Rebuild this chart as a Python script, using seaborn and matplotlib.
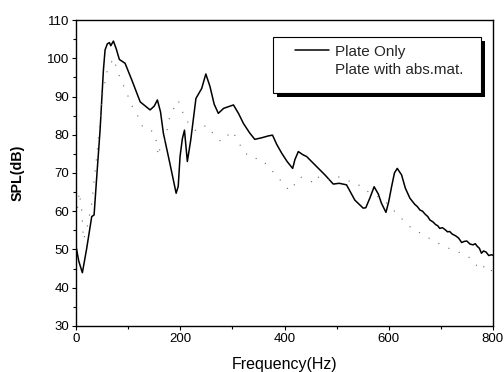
import numpy as np
import matplotlib
matplotlib.use("Agg")
import matplotlib.pyplot as plt
from matplotlib.patches import Rectangle
import seaborn as sns

# ─── DATA ─────────────────────────────────────────────────
freq_plate = [0, 5, 12, 20, 30, 34.5, 39.6, 46, 52.4, 55.6, 60, 64, 66.5, 71.6, 77, 83,
              94, 107, 123, 142, 150, 156, 162, 167.5, 180, 192, 196, 199.5, 204, 208,
              213.5, 220, 230, 241, 249, 257, 265, 273, 283, 302, 312, 321, 333, 343,
              356, 369, 377, 385, 394.5, 405, 415.6, 420, 426.5, 435, 442.5, 458.5,
              477.6, 493.6, 505, 519, 535, 551, 556, 564, 572, 580, 586, 594.7, 600,
              605.5, 611, 616.4, 624.7, 632, 640.7, 650, 655, 660, 665, 670, 675, 679,
              685, 690, 694, 698, 703, 708, 713, 717, 722, 728, 734, 740, 745, 750,
              756, 762, 766, 770, 774, 778, 782, 787, 792, 797, 800]
spl_plate = [50.7, 47, 43.9, 50, 58.6, 59, 69, 81.2, 96.9, 102.2, 103.8, 104.1, 103.3,
             104.5, 102.5, 99.7, 98.7, 94.3, 88.6, 86.5, 87.5, 89.1, 86, 80.4, 72.5,
             64.7, 66.5, 74.3, 79, 81.2, 73, 78.6, 89.5, 92.1, 95.9, 92.6, 88, 85.6,
             86.9, 87.8, 85.5, 83, 80.5, 78.8, 79.2, 79.7, 79.9, 77.5, 75.2, 73, 71.2,
             73.5, 75.6, 74.8, 74.3, 72.1, 69.5, 67.1, 67.3, 66.9, 62.9, 60.8, 60.9,
             63.5, 66.4, 64.5, 62.1, 59.7, 62.5, 66.4, 70, 71.2, 69.5, 66, 63.4, 61.8,
             61.2, 60.3, 60.0, 59.2, 58.6, 57.7, 57.2, 56.5, 56.2, 55.5, 55.7, 55.2,
             54.6, 54.7, 54.0, 53.6, 53.0, 51.8, 52.1, 52.2, 51.4, 51.2, 51.5, 50.8,
             50.3, 49.0, 49.6, 49.3, 48.4, 48.6, 48.5]

freq_abs = [0, 4, 6, 11, 14, 20, 30, 40, 50, 60, 72, 81, 96, 110, 120, 124, 134, 145,
            152, 158, 161, 170, 180, 196, 210, 230, 250, 265, 278, 300, 320, 334, 356,
            380, 410, 430, 452, 458, 480, 500, 520, 538, 551, 570, 590, 621, 640, 666,
            690, 708, 743, 762, 774, 788, 800]
spl_abs = [58, 62, 65, 60, 52.5, 55, 62, 75, 90, 97, 100, 96, 91.3, 86.7, 84.6, 82.7,
           81.4, 81, 80, 74.4, 76.5, 78, 85, 89, 84, 81, 82.5, 80, 78.2, 81, 76, 74,
           73.6, 70, 65.3, 69, 67.7, 69.3, 68, 69.2, 68, 67.5, 65.7, 64.5, 63, 58.6,
           56, 53.8, 52, 50.7, 48.8, 47.3, 44.6, 46, 44]

x_ticks = [0, 200, 400, 600, 800]
y_ticks = [30, 40, 50, 60, 70, 80, 90, 100, 110]

# ─── STYLE ────────────────────────────────────────────────
sns.set_style("ticks")
plt.rcParams['font.family'] = ['Liberation Sans', 'DejaVu Sans']

fig = plt.figure(figsize=(5.04, 3.72), dpi=100)
ax = fig.add_axes([0.151, 0.124, 0.827, 0.822])

sns.lineplot(x=freq_plate, y=spl_plate, ax=ax, color='black', linewidth=1.1,
             estimator=None, sort=False, label='Plate Only')
sns.lineplot(x=freq_abs, y=spl_abs, ax=ax, color='#666666', linewidth=0.8,
             estimator=None, sort=False, label='Plate with abs.mat.')
ax.lines[0].set_solid_joinstyle('round')
ax.lines[1].set_linestyle((0, (1, 9)))

ax.set_xlim(0, 800)
ax.set_ylim(30, 110)
ax.set_xticks(x_ticks)
ax.set_yticks(y_ticks)
ax.set_xticks([100, 300, 500, 700], minor=True)
ax.set_yticks(np.arange(35, 110, 10), minor=True)
ax.tick_params(axis='both', which='major', length=3, width=0.8, labelsize=9.5, pad=2,
               color='black', labelcolor='black')
ax.tick_params(axis='both', which='minor', length=2, width=0.8, color='black')

for s in ax.spines.values():
    s.set_color('black')
    s.set_linewidth(1.0)

ax.set_xlabel('Frequency(Hz)', fontsize=11.5, labelpad=9, color='black')
ax.set_ylabel('SPL(dB)', fontsize=10.3, fontweight='bold', labelpad=16, color='black')

# ─── LEGEND: box with solid drop shadow, entries drawn on top ─
bx0, bx1, by0, by1 = 0.4724, 0.971, 0.7614, 0.9444
ax.add_patch(Rectangle((bx0 + 0.0096, by0 - 0.013), bx1 - bx0, by1 - by0,
                       transform=ax.transAxes, facecolor='black', edgecolor='none',
                       zorder=4, clip_on=False))
ax.add_patch(Rectangle((bx0, by0), bx1 - bx0, by1 - by0, transform=ax.transAxes,
                       facecolor='white', edgecolor='black', linewidth=0.8,
                       zorder=5, clip_on=False))

leg = ax.legend(loc='upper left', bbox_to_anchor=(0.525, 0.92), fontsize=11,
                frameon=False, handlelength=2.2, borderpad=0, labelspacing=0.27,
                handletextpad=0.45, borderaxespad=0)
leg.set_zorder(6)
# the dotted entry shows no visible sample in the original legend
leg.get_lines()[1].set_visible(False)

fig.savefig('out.png', dpi=100)
plt.close(fig)
